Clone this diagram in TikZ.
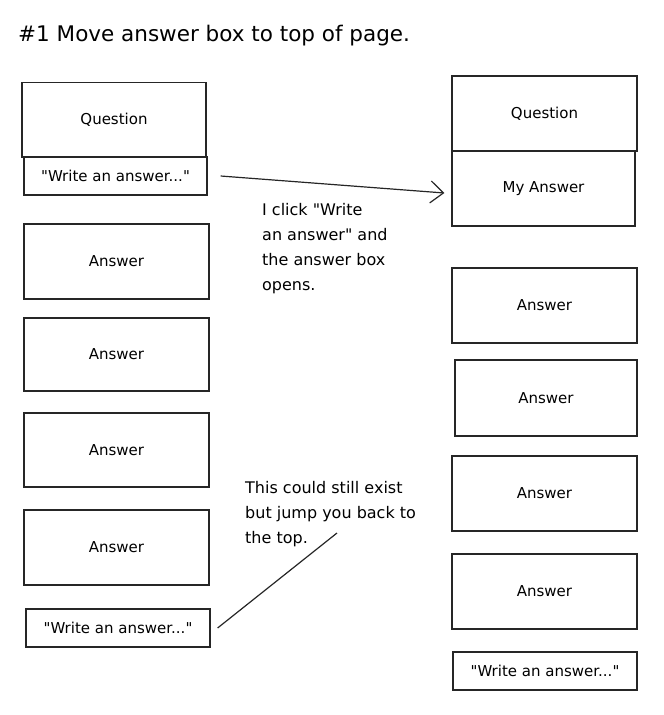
\documentclass[tikz,border=0pt]{standalone}
\usepackage{fontspec}
\setmainfont{DejaVu Sans}[Ligatures=TeXOff]
\usetikzlibrary{arrows.meta}
\newcommand\dq{\symbol{34}}
\begin{document}
\begin{tikzpicture}[x=1pt,y=-1pt,
  box/.style={draw=black!85,line width=1.2pt,minimum width=185pt,minimum height=75pt,inner sep=0pt,font=\fontsize{15}{18}\selectfont},
  wbox/.style={box,minimum height=38pt},
  note/.style={anchor=north west,align=left,inner sep=0pt,font=\fontsize{16}{25}\selectfont},
  conn/.style={draw=black!85,line width=1.2pt}]
\useasboundingbox (0,0) rectangle (664,715);
\node[anchor=base west,inner sep=0pt,font=\fontsize{21.5}{26}\selectfont] (title) at (18,41) {\#1 Move answer box to top of page.};
% left column
\node[box,minimum width=184pt] (lq) at (114,120) {Question};
\node[wbox,minimum width=183pt] (lwtop) at (115.5,176) {\dq Write an answer...\dq};
\node[box,minimum height=75pt] (la1) at (116.5,261.5) {Answer};
\node[box,minimum height=73pt] (la2) at (116.5,354.5) {Answer};
\node[box,minimum height=74pt] (la3) at (116.5,450) {Answer};
\node[box,minimum height=75pt] (la4) at (116.5,547.5) {Answer};
\node[wbox,minimum width=184pt] (lwbot) at (118,628) {\dq Write an answer...\dq};
% right column
\node[box] (rq) at (544.5,113.5) {Question};
\node[box,minimum width=183pt] (rmy) at (543.5,188.5) {My Answer};
\node[box] (ra1) at (544.5,305.5) {Answer};
\node[box,minimum width=182pt,minimum height=76pt] (ra2) at (546,398) {Answer};
\node[box] (ra3) at (544.5,493.5) {Answer};
\node[box] (ra4) at (544.5,591.5) {Answer};
\node[wbox,minimum width=184pt] (rw) at (545,671) {\dq Write an answer...\dq};
% notes
\node[note] (note1) at (262,203) {I click \dq Write\\an answer\dq{} and\\the answer box\\opens.};
\node[note] (note2) at (245,481) {This could still exist\\but jump you back to\\the top.};
\coordinate (lineend) at (337,533);
% connectors
\draw[conn,-{Straight Barb[length=13pt,width=22pt,line width=1.2pt]}] ([xshift=13pt]lwtop.east) -- ([xshift=-7pt,yshift=-4.5pt]rmy.west);
\draw[conn] ([xshift=7pt]lwbot.east) -- (lineend);
\end{tikzpicture}
\end{document}
